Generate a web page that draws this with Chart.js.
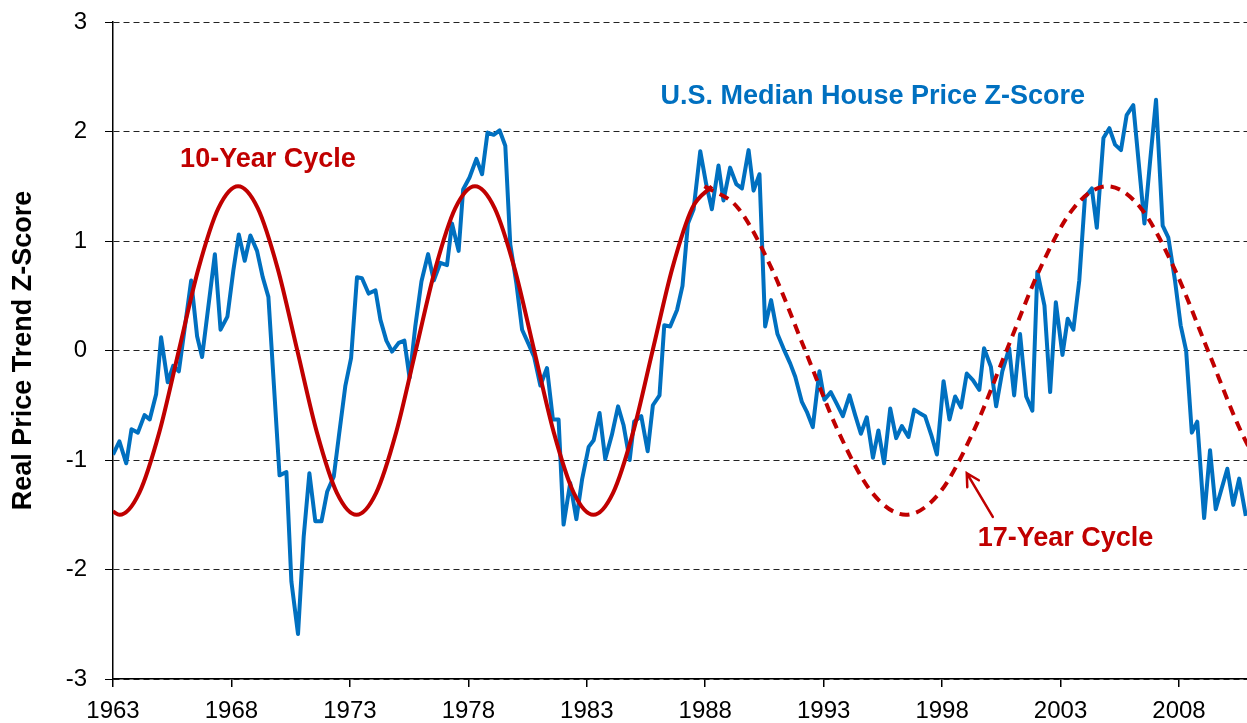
<!DOCTYPE html>
<html>
<head>
<meta charset="utf-8">
<script src="https://cdn.jsdelivr.net/npm/chart.js@4.4.1/dist/chart.umd.min.js"></script>
<style>
  html, body { margin: 0; padding: 0; background: #fff; overflow: hidden; }
  #wrap { width: 1247px; height: 723px; }
</style>
</head>
<body>
<div id="wrap"><canvas id="c" width="1247" height="723"></canvas></div>
<script>
// ---------------- DATA ----------------
const xTickYears = [1963, 1968, 1973, 1978, 1983, 1988, 1993, 1998, 2003, 2008];
const yTickValues = [-3, -2, -1, 0, 1, 2, 3];

// U.S. Median House Price Z-Score (quarterly)
const houseYears = [
  1963.00,1963.27,1963.56,1963.78,1964.05,1964.33,1964.55,1964.82,1965.03,1965.31,
  1965.54,1965.78,1966.30,1966.55,1966.76,1967.30,1967.54,1967.83,1968.08,1968.31,
  1968.56,1968.80,1969.08,1969.32,1969.56,1970.03,1970.32,1970.53,1970.81,1971.05,
  1971.29,1971.54,1971.80,1972.04,1972.32,1972.53,1972.81,1973.05,1973.30,1973.51,
  1973.79,1974.08,1974.29,1974.54,1974.78,1975.06,1975.30,1975.52,1975.76,1976.02,
  1976.30,1976.54,1976.82,1977.10,1977.31,1977.59,1977.78,1978.05,1978.34,1978.58,
  1978.81,1979.07,1979.32,1979.56,1979.77,1980.03,1980.27,1980.54,1980.78,1981.04,
  1981.32,1981.57,1981.81,1982.02,1982.30,1982.56,1982.80,1983.08,1983.29,1983.54,
  1983.78,1984.06,1984.32,1984.55,1984.81,1985.00,1985.30,1985.57,1985.79,1986.07,
  1986.27,1986.52,1986.81,1987.04,1987.27,1987.51,1987.79,1988.04,1988.28,1988.56,
  1988.77,1989.05,1989.31,1989.55,1989.83,1990.04,1990.29,1990.53,1990.78,1991.05,
  1991.30,1991.59,1991.80,1992.08,1992.29,1992.54,1992.82,1993.03,1993.30,1993.56,
  1993.81,1994.09,1994.33,1994.57,1994.82,1995.08,1995.31,1995.55,1995.81,1996.06,
  1996.30,1996.58,1996.82,1997.04,1997.28,1997.54,1997.78,1998.06,1998.31,1998.55,
  1998.80,1999.04,1999.30,1999.57,1999.77,2000.06,2000.28,2000.54,2000.83,2001.04,
  2001.29,2001.55,2001.81,2002.02,2002.32,2002.56,2002.80,2003.08,2003.30,2003.54,
  2003.79,2004.03,2004.32,2004.53,2004.81,2005.06,2005.30,2005.55,2005.79,2006.07,
  2006.54,2006.78,2007.03,2007.31,2007.55,2007.83,2008.07,2008.30,2008.54,2008.77,
  2009.06,2009.31,2009.55,2009.80,2010.04,2010.29,2010.54,2010.82
];
const houseZ = [
  -0.95,-0.83,-1.03,-0.72,-0.75,-0.59,-0.63,-0.40, 0.12,-0.29,
  -0.14,-0.19, 0.64, 0.13,-0.06, 0.88, 0.19, 0.31, 0.73, 1.06,
   0.82, 1.05, 0.91, 0.67, 0.49,-1.14,-1.11,-2.11,-2.59,-1.70,
  -1.12,-1.56,-1.56,-1.29,-1.15,-0.79,-0.32,-0.07, 0.67, 0.66,
   0.52, 0.55, 0.28, 0.09,-0.01, 0.07, 0.09,-0.25, 0.22, 0.63,
   0.88, 0.64, 0.80, 0.78, 1.16, 0.91, 1.47, 1.58, 1.75, 1.61,
   1.99, 1.97, 2.01, 1.87, 0.97, 0.61, 0.19, 0.06,-0.06,-0.32,
  -0.16,-0.63,-0.63,-1.59,-1.21,-1.54,-1.18,-0.88,-0.82,-0.57,
  -0.99,-0.77,-0.51,-0.68,-1.00,-0.65,-0.60,-0.92,-0.50,-0.41,
   0.23, 0.22, 0.37, 0.59, 1.16, 1.29, 1.82, 1.52, 1.29, 1.69,
   1.37, 1.67, 1.52, 1.48, 1.83, 1.46, 1.61, 0.22, 0.46, 0.15,
   0.02,-0.12,-0.24,-0.47,-0.56,-0.70,-0.19,-0.45,-0.38,-0.49,
  -0.60,-0.41,-0.59,-0.76,-0.61,-0.98,-0.73,-1.03,-0.53,-0.80,
  -0.69,-0.79,-0.54,-0.57,-0.60,-0.77,-0.95,-0.28,-0.63,-0.42,
  -0.52,-0.21,-0.27,-0.36, 0.02,-0.15,-0.51,-0.19, 0.02,-0.41,
   0.15,-0.42,-0.55, 0.72, 0.41,-0.38, 0.44,-0.04, 0.29, 0.19,
   0.64, 1.40, 1.48, 1.12, 1.94, 2.03, 1.88, 1.83, 2.15, 2.24,
   1.16, 1.73, 2.29, 1.14, 1.03, 0.64, 0.23, 0.00,-0.75,-0.65,
  -1.53,-0.91,-1.45,-1.26,-1.08,-1.41,-1.17,-1.51
];

// 10-Year Cycle (solid)
const cycle10Years = [
  1963.00,1963.28,1964.11,1964.95,1965.78,1966.61,1967.45,1968.28,1969.11,1969.95,
  1970.78,1971.61,1972.45,1973.28,1974.11,1974.95,1975.78,1976.61,1977.45,1978.28,
  1979.11,1979.95,1980.78,1981.61,1982.45,1983.28,1984.11,1984.95,1985.78,1986.61,
  1987.45,1988.28
];
const cycle10Z = [
  -1.47,-1.50,-1.30,-0.75, 0.00, 0.75, 1.30, 1.50, 1.30, 0.75,
   0.00,-0.75,-1.30,-1.50,-1.30,-0.75, 0.00, 0.75, 1.30, 1.50,
   1.30, 0.75, 0.00,-0.75,-1.30,-1.50,-1.30,-0.75, 0.00, 0.75,
   1.30, 1.50
];

// 17-Year Cycle (dashed)
const cycle17Years = [
  1987.97,1989.39,1990.80,1992.22,1993.64,1995.05,1996.47,1997.89,1999.30,2000.72,
  2002.14,2003.55,2004.97,2006.39,2007.80,2009.22,2010.64,2012.05
];
const cycle17Z = [
   1.50, 1.30, 0.75, 0.00,-0.75,-1.30,-1.50,-1.30,-0.75, 0.00,
   0.75, 1.30, 1.50, 1.30, 0.75, 0.00,-0.75,-1.30
];

const seriesNames = ['U.S. Median House Price Z-Score', '10-Year Cycle', '17-Year Cycle'];
const yAxisTitle = 'Real Price Trend Z-Score';

// ---------------- CHART ----------------
const BLUE = '#0070C0';
const RED = '#C00000';
const FONT = '"Liberation Sans", Arial, Helvetica, sans-serif';

const toPts = (xs, ys) => xs.map((x, i) => ({ x: x, y: ys[i] }));

const notesPlugin = {
  id: 'notes',
  afterDatasetsDraw(chart, args, opts) {
    const { ctx, scales: { x, y } } = chart;
    ctx.save();
    opts.labels.forEach(l => {
      ctx.font = 'bold 27px ' + FONT;
      ctx.fillStyle = l.color;
      ctx.textAlign = 'center';
      ctx.textBaseline = 'alphabetic';
      ctx.fillText(l.text, x.getPixelForValue(l.x), y.getPixelForValue(l.y));
    });
    const a = opts.arrow;
    const x1 = x.getPixelForValue(a.fromX), y1 = y.getPixelForValue(a.fromY);
    const x2 = x.getPixelForValue(a.toX), y2 = y.getPixelForValue(a.toY);
    ctx.strokeStyle = a.color;
    ctx.lineWidth = 2.5;
    ctx.lineCap = 'round';
    ctx.beginPath();
    ctx.moveTo(x1, y1);
    ctx.lineTo(x2, y2);
    const ang = Math.atan2(y2 - y1, x2 - x1);
    const hl = 14, ha = 0.5;
    ctx.moveTo(x2 - hl * Math.cos(ang - ha), y2 - hl * Math.sin(ang - ha));
    ctx.lineTo(x2, y2);
    ctx.lineTo(x2 - hl * Math.cos(ang + ha), y2 - hl * Math.sin(ang + ha));
    ctx.stroke();
    ctx.restore();
  }
};

new Chart(document.getElementById('c'), {
  type: 'line',
  data: {
    datasets: [
      {
        label: seriesNames[1],
        data: toPts(cycle10Years, cycle10Z),
        borderColor: RED,
        borderWidth: 4,
        pointRadius: 0,
        cubicInterpolationMode: 'monotone',
        fill: false
      },
      {
        label: seriesNames[2],
        data: toPts(cycle17Years, cycle17Z),
        borderColor: RED,
        borderWidth: 4,
        borderDash: [10, 7],
        pointRadius: 0,
        cubicInterpolationMode: 'monotone',
        fill: false
      },
      {
        label: seriesNames[0],
        data: toPts(houseYears, houseZ),
        borderColor: BLUE,
        borderWidth: 4,
        borderJoinStyle: 'round',
        pointRadius: 0,
        tension: 0,
        fill: false
      }
    ]
  },
  options: {
    responsive: false,
    animation: false,
    devicePixelRatio: 1,
    layout: { padding: { top: 22, right: 0, bottom: 0, left: 0 } },
    plugins: {
      legend: { display: false },
      tooltip: { enabled: false },
      notes: {
        labels: [
          { text: seriesNames[0], color: BLUE, x: 1995.07, y: 2.254 },
          { text: seriesNames[1], color: RED, x: 1969.54, y: 1.68 },
          { text: seriesNames[2], color: RED, x: 2003.21, y: -1.786 }
        ],
        arrow: { color: RED, fromX: 2000.14, fromY: -1.52, toX: 1999.04, toY: -1.12 }
      }
    },
    scales: {
      x: {
        type: 'linear',
        min: 1963,
        max: 2010.87,
        afterBuildTicks: s => { s.ticks = xTickYears.map(v => ({ value: v })); },
        afterFit: s => { s.height = 44; s.paddingLeft = 0; s.paddingRight = 0; },
        ticks: {
          callback: v => String(v),
          color: '#000',
          font: { family: FONT, size: 24 },
          padding: 10,
          maxRotation: 0,
          autoSkip: false
        },
        grid: { drawOnChartArea: false, drawTicks: true, tickLength: 8, tickColor: '#000', lineWidth: 1.5 },
        border: { display: true, color: '#000', width: 1.5 }
      },
      y: {
        type: 'linear',
        min: -3,
        max: 3,
        afterBuildTicks: s => { s.ticks = yTickValues.map(v => ({ value: v })); },
        afterFit: s => { s.width = 113; s.paddingTop = 0; s.paddingBottom = 0; },
        ticks: {
          callback: v => String(v),
          color: '#000',
          font: { family: FONT, size: 24 },
          padding: 18
        },
        grid: { color: '#222', lineWidth: 1, drawTicks: true, tickLength: 8, tickColor: '#000' },
        border: { display: true, color: '#000', width: 1.5, dash: [6, 4] },
        title: {
          display: true,
          text: yAxisTitle,
          color: '#000',
          font: { family: FONT, size: 27, weight: 'bold' },
          padding: { top: 7, bottom: 0 }
        }
      }
    }
  },
  plugins: [notesPlugin]
});
</script>
</body>
</html>
